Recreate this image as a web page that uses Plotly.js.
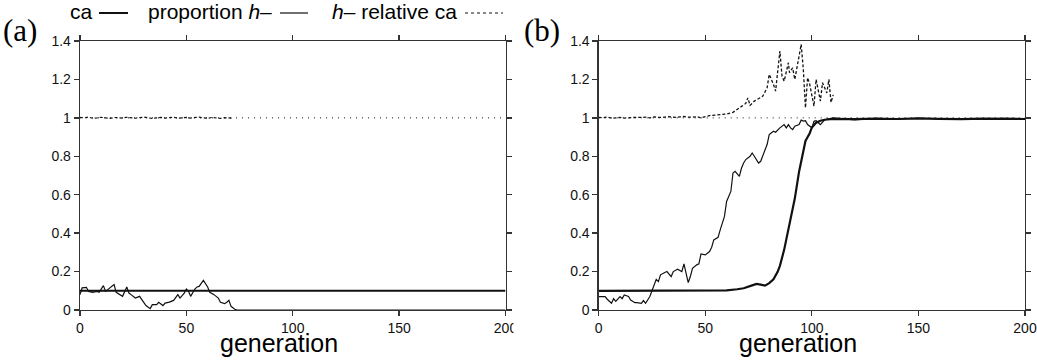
<!DOCTYPE html>
<html>
<head>
<meta charset="utf-8">
<script src="https://cdn.plot.ly/plotly-3.0.1.min.js"></script>
<style>html,body{margin:0;padding:0;background:#fff;}#chart{width:1037px;height:360px;}</style>
</head>
<body>
<div id="chart"></div>
<script>
// ---------- data ----------
const X_TICKS = [0, 50, 100, 150, 200];
const Y_TICKS = [0, 0.2, 0.4, 0.6, 0.8, 1, 1.2, 1.4];
const X_TITLE = "generation";
const PANEL_LABELS = ["(a)", "(b)"];
const LEGEND_LABELS = ["ca", "proportion <i>h</i>–", "<i>h</i>– relative ca"];

// reference level (relative ca = 1)
const REF_GEN = [0, 200];
const REF_VAL = [1, 1];

// panel (a)
const GEN_A_CA = [0, 200];
const CA_A = [0.1, 0.1];
const GEN_A_H = [0,1,3,4,6,8,9,11,12,14,16,17,19,20,22,23,24,26,28,30,31,33,34,36,37,39,40,42,44,46,47,49,50,51,52,54,55,56,58,60,61,63,65,66,68,69,70,71,72,73,74,200];
const PROP_H_A = [0.08,0.115,0.118,0.097,0.092,0.097,0.092,0.127,0.097,0.115,0.132,0.092,0.08,0.071,0.12,0.088,0.08,0.062,0.071,0.04,0.023,0.007,0.028,0.028,0.04,0.023,0.036,0.041,0.05,0.08,0.062,0.088,0.109,0.097,0.071,0.109,0.12,0.123,0.154,0.12,0.092,0.08,0.062,0.04,0.033,0.04,0.05,0.019,0.01,0.002,0,0];
const GEN_A_REL = [0,2,4,6,8,10,12,14,16,18,20,22,24,26,28,30,32,34,36,38,40,42,44,46,48,50,52,54,56,58,60,62,64,66,68,70,72];
const REL_CA_A = [1.002,1.0,1.004,0.998,1.0,1.003,1.0,0.997,1.002,1.001,0.999,1.003,1.0,0.998,1.001,1.004,1.0,0.997,1.0,1.002,0.999,1.001,1.003,0.998,1.0,1.002,0.999,1.001,1.004,1.0,0.998,1.002,1.0,0.997,1.001,1.0,0.998];

// panel (b)
const GEN_B_CA = [0,55,60,65,68,72,74,76,78,80,82,84,85,87,89,90,92,94,96,97,99,100,102,104,106,110,120,130,140,150,160,170,180,190,200];
const CA_B = [0.1,0.1,0.102,0.108,0.113,0.128,0.136,0.132,0.127,0.14,0.16,0.2,0.23,0.313,0.42,0.48,0.58,0.72,0.84,0.88,0.92,0.95,0.975,0.985,0.99,0.995,0.993,0.996,0.994,0.997,0.995,0.993,0.996,0.995,0.994];
const GEN_B_H = [0,1,3,4,6,7,8,10,11,12,14,15,17,18,20,21,22,24,25,27,28,29,31,32,34,35,37,39,40,42,43,44,46,47,48,50,52,53,54,56,57,59,60,62,63,64,66,67,68,69,71,72,73,75,76,78,79,80,82,83,85,87,88,89,90,91,92,94,95,96,97,98,100,101,102,104,106,110,115,120,130,140,150,160,170,180,190,200];
const PROP_H_B = [0.07,0.069,0.07,0.056,0.035,0.059,0.045,0.07,0.059,0.078,0.07,0.052,0.038,0.038,0.035,0.049,0.035,0.07,0.104,0.16,0.148,0.183,0.195,0.2,0.174,0.2,0.212,0.2,0.24,0.143,0.174,0.217,0.235,0.24,0.292,0.287,0.304,0.327,0.365,0.378,0.417,0.487,0.565,0.617,0.713,0.722,0.695,0.739,0.765,0.783,0.8,0.817,0.8,0.765,0.774,0.826,0.861,0.913,0.93,0.925,0.948,0.965,0.948,0.965,0.948,0.939,0.957,0.965,0.988,0.983,0.985,0.965,0.948,0.982,0.985,0.965,0.99,1.0,0.995,0.99,0.997,0.993,0.998,0.994,0.996,0.992,0.997,0.995];
const GEN_B_REL = [0,2,4,6,8,10,12,14,16,18,20,22,24,26,28,30,32,34,36,38,40,42,44,46,48,52,57,60,63,66,69,70,71,73,75,77,79,80,82,83,85,86,87,89,89.5,91,92,93,95,96,97,98,99,101,102,104,105,107,108,109,110];
const REL_CA_B = [1.003,1.0,1.005,0.998,1.0,1.002,0.999,1.001,1.0,1.003,1.002,1.004,1.0,1.005,1.003,1.002,1.006,1.004,1.003,1.005,1.007,1.004,1.003,1.006,1.0,1.012,1.017,1.02,1.029,1.052,1.075,1.104,1.065,1.087,1.1,1.113,1.156,1.226,1.174,1.139,1.348,1.217,1.191,1.287,1.235,1.26,1.2,1.26,1.382,1.252,1.052,1.209,1.174,1.061,1.2,1.087,1.183,1.13,1.2,1.08,1.12];

// ---------- helpers ----------
const W = 1037, H = 360;
const px = x => x / W;
const py = y => 1 - y / H;
const INK = "#111";

function line(x, y, xa, ya, width, dash) {
  return {x: x, y: y, xaxis: xa, yaxis: ya, type: "scatter", mode: "lines",
          line: {color: INK, width: width, dash: dash || "solid"},
          hoverinfo: "skip", showlegend: false, cliponaxis: true};
}

const traces = [
  line(REF_GEN, REF_VAL, "x", "y", 1, "1px,5px"),
  line(GEN_A_REL, REL_CA_A, "x", "y", 1.2, "3px,2px"),
  line(GEN_A_CA, CA_A, "x", "y", 2),
  line(GEN_A_H, PROP_H_A, "x", "y", 1.2),
  line(REF_GEN, REF_VAL, "x2", "y2", 1, "1px,5px"),
  line(GEN_B_REL, REL_CA_B, "x2", "y2", 1.3, "3px,2px"),
  line(GEN_B_CA, CA_B, "x2", "y2", 2.2),
  line(GEN_B_H, PROP_H_B, "x2", "y2", 1.2)
];

const tickFont = {family: "Liberation Sans, Arial, sans-serif", size: 14, color: "#111"};
function xax(domain, anchor) {
  return {domain: domain, anchor: anchor, range: [0, 200], tickvals: X_TICKS,
          ticks: "outside", ticklen: 5, tickwidth: 1.3, tickcolor: "#333",
          showline: true, linecolor: "#333", linewidth: 1.3, mirror: "ticks",
          showgrid: false, zeroline: false, tickfont: tickFont, fixedrange: true};
}
function yax(domain, anchor) {
  return {domain: domain, anchor: anchor, range: [0, 1.4], tickvals: Y_TICKS,
          ticks: "outside", ticklen: 5, tickwidth: 1.3, tickcolor: "#333",
          showline: true, linecolor: "#333", linewidth: 1.3, mirror: "ticks",
          showgrid: false, zeroline: false, tickfont: tickFont, fixedrange: true};
}

const yDom = [py(310), py(41)];
const layout = {
  width: W, height: H,
  margin: {l: 0, r: 0, t: 0, b: 0},
  paper_bgcolor: "#fff", plot_bgcolor: "#fff",
  showlegend: false,
  xaxis: xax([px(80), px(505.5)], "y"),
  yaxis: yax(yDom, "x"),
  xaxis2: xax([px(598.7), px(1025)], "y2"),
  yaxis2: yax(yDom, "x2"),
  annotations: [],
  shapes: []
};

const serif = {family: "Liberation Serif, Times New Roman, serif", size: 31, color: "#000"};
const sans = {family: "Liberation Sans, Arial, sans-serif", size: 21, color: "#000"};
const titleFont = {family: "Liberation Sans, Arial, sans-serif", size: 25, color: "#000"};

// panel labels
layout.annotations.push({text: PANEL_LABELS[0], xref: "paper", yref: "paper", x: px(1), y: py(30), xanchor: "left", yanchor: "middle", showarrow: false, font: serif});
layout.annotations.push({text: PANEL_LABELS[1], xref: "paper", yref: "paper", x: px(522), y: py(30), xanchor: "left", yanchor: "middle", showarrow: false, font: serif});
// axis titles
layout.annotations.push({text: X_TITLE, xref: "paper", yref: "paper", x: px(279), y: py(343), xanchor: "center", yanchor: "middle", showarrow: false, font: titleFont});
layout.annotations.push({text: X_TITLE, xref: "paper", yref: "paper", x: px(797.5), y: py(343), xanchor: "center", yanchor: "middle", showarrow: false, font: titleFont});

// legend (label followed by line sample)
const legY = 12;
const legItems = [
  {textRight: 95, x0: 99, x1: 128, w: 2, dash: "solid"},
  {textRight: 274, x0: 280, x1: 308, w: 1.2, dash: "solid"},
  {textRight: 459, x0: 465, x1: 503, w: 1, dash: "dot"}
];
legItems.forEach((it, i) => {
  layout.annotations.push({text: LEGEND_LABELS[i], xref: "paper", yref: "paper", x: px(it.textRight), y: py(legY), xanchor: "right", yanchor: "middle", showarrow: false, font: sans});
  layout.shapes.push({type: "line", xref: "paper", yref: "paper", x0: px(it.x0), x1: px(it.x1), y0: py(legY + 1), y1: py(legY + 1), line: {color: INK, width: it.w, dash: it.dash}});
});
// clip panel (a) "200" label like the original
layout.shapes.push({type: "rect", xref: "paper", yref: "paper", x0: px(513.5), x1: px(521), y0: py(335), y1: py(314), fillcolor: "#fff", line: {width: 0}, layer: "above"});

Plotly.newPlot("chart", traces, layout, {staticPlot: true, displayModeBar: false});
</script>
</body>
</html>
